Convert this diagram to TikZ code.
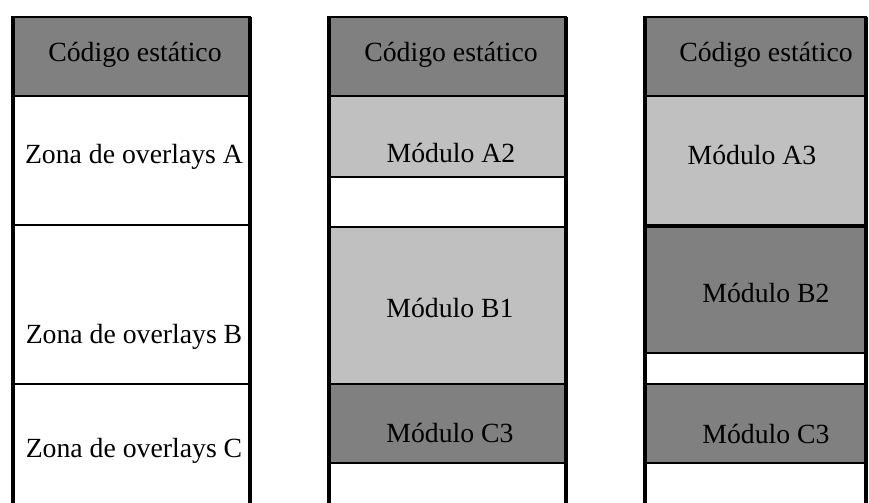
\documentclass[tikz,border=0pt]{standalone}
\usepackage{fontspec}
\setmainfont{Liberation Serif}
\begin{document}
\begin{tikzpicture}[x=0.75pt,y=-0.75pt,
  dark/.style={fill={rgb,255:red,128;green,128;blue,128},draw=black,line width=1.5pt},
  light/.style={fill={rgb,255:red,192;green,192;blue,192},draw=black,line width=1.5pt},
  blank/.style={fill=white,draw=black,line width=1.5pt},
  frame/.style={draw=black,line width=2.6pt},
  lbl/.style={anchor=base,inner sep=0pt,font=\fontsize{20.8}{25}\selectfont}]
\useasboundingbox (0,0) rectangle (869,503);
\fill[white] (0,0) rectangle (869,503);
% Column 1
\path[dark]  (12,17) rectangle (250,96);
\path[blank] (12,96) rectangle (250,225);
\path[blank] (12,225) rectangle (250,384);
\path[blank] (12,384) rectangle (250,520);
\draw[frame] (13,17) -- (13,503);
\draw[frame] (250,17) -- (250,503);
\node[lbl] (h1) at (135,62) {Código estático};
\node[lbl] (za) at (134,164) {Zona de overlays A};
\node[lbl] (zb) at (134,344) {Zona de overlays B};
\node[lbl] (zc) at (134,457) {Zona de overlays C};
% Column 2
\path[dark]  (328,17) rectangle (566,96);
\path[light] (328,96) rectangle (566,177);
\path[blank] (328,177) rectangle (566,227);
\path[light] (328,227) rectangle (566,384);
\path[dark]  (328,384) rectangle (566,463);
\path[blank] (328,463) rectangle (566,520);
\draw[frame] (329,17) -- (329,503);
\draw[frame] (566,17) -- (566,503);
\node[lbl] (h2) at (451,62) {Código estático};
\node[lbl] (a2) at (451,162) {Módulo A2};
\node[lbl] (b1) at (450,317) {Módulo B1};
\node[lbl] (c2) at (450,442) {Módulo C3};
% Column 3
\path[dark]  (644,17) rectangle (866,96);
\path[light] (644,96) rectangle (866,225);
\path[dark]  (644,227) rectangle (866,353);
\path[blank] (644,353) rectangle (866,384);
\path[dark]  (644,384) rectangle (866,463);
\path[blank] (644,463) rectangle (866,520);
\draw[frame] (645,17) -- (645,503);
\draw[frame] (866,17) -- (866,503);
\node[lbl] (h3) at (766,62) {Código estático};
\node[lbl] (a3) at (752,165) {Módulo A3};
\node[lbl] (b2) at (766,302) {Módulo B2};
\node[lbl] (c3) at (766,443) {Módulo C3};
\end{tikzpicture}
\end{document}
